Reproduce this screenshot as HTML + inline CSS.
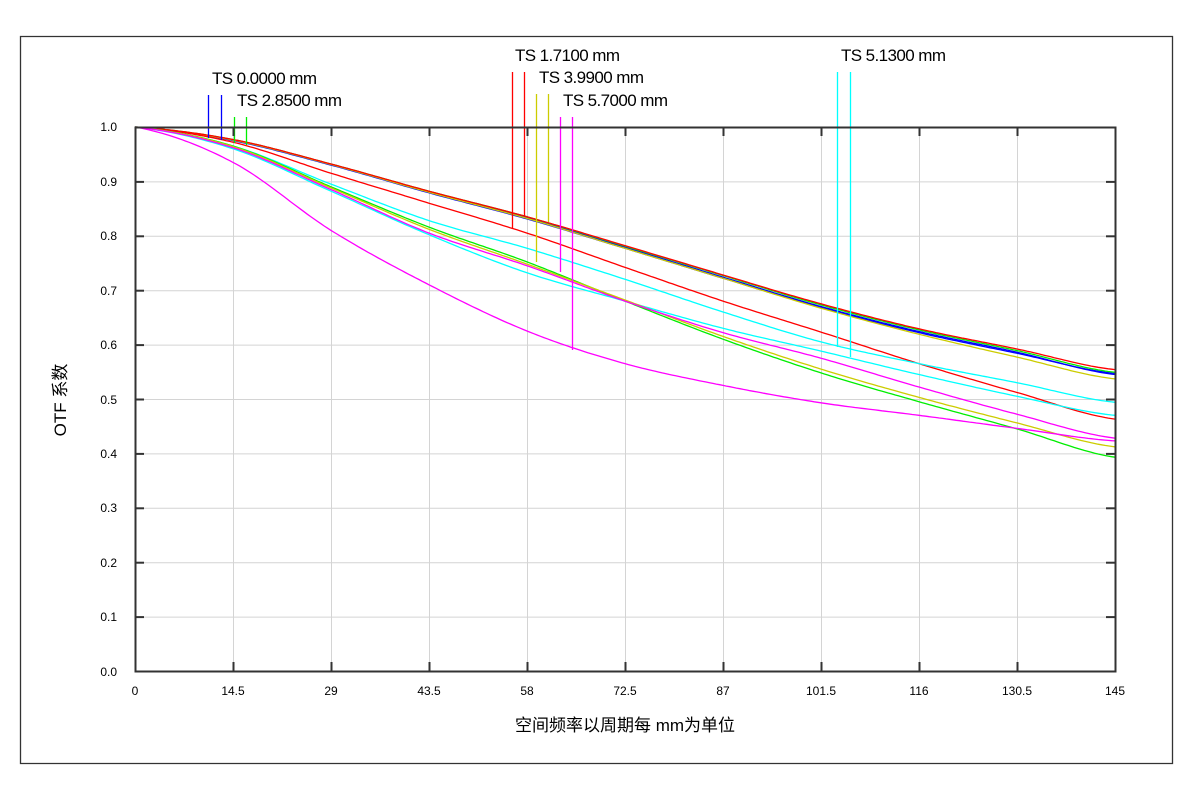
<!DOCTYPE html>
<html><head><meta charset="utf-8"><style>
html,body{margin:0;padding:0;background:#fff;width:1200px;height:800px;overflow:hidden}
svg{display:block}
.t{font-family:"Liberation Sans","Noto Sans CJK SC",sans-serif;font-size:12px;fill:#000}
.l{font-family:"Liberation Sans","Noto Sans CJK SC",sans-serif;font-size:17px;fill:#000}
</style></head><body>
<svg id="s" width="1200" height="800" xmlns="http://www.w3.org/2000/svg">
<rect x="0" y="0" width="1200" height="800" fill="#fff"/>
<path d="M20.5 36.5H1172.5V763.5H20.5Z" fill="none" stroke="#333" stroke-width="1.3"/>
<g id="grid" stroke="#d4d4d4" stroke-width="1"></g>
<g id="curves" fill="none" stroke-width="1.3"></g>
<g id="marks" stroke-width="1.3"></g>
<rect x="135.5" y="127.5" width="980" height="544" fill="none" stroke="#333" stroke-width="2"/>
<g id="ticks" stroke="#333" stroke-width="2"></g>
<g class="t" text-anchor="end">
<text x="117" y="131">1.0</text><text x="117" y="186">0.9</text><text x="117" y="240">0.8</text>
<text x="117" y="295">0.7</text><text x="117" y="349">0.6</text><text x="117" y="404">0.5</text>
<text x="117" y="458">0.4</text><text x="117" y="512">0.3</text><text x="117" y="567">0.2</text>
<text x="117" y="621">0.1</text><text x="117" y="676">0.0</text>
</g>
<g class="t" text-anchor="middle">
<text x="135" y="695">0</text><text x="233" y="695">14.5</text><text x="331" y="695">29</text>
<text x="429" y="695">43.5</text><text x="527" y="695">58</text><text x="625" y="695">72.5</text>
<text x="723" y="695">87</text><text x="821" y="695">101.5</text><text x="919" y="695">116</text>
<text x="1017" y="695">130.5</text><text x="1115" y="695">145</text>
</g>
<text class="l" x="625" y="731" text-anchor="middle" style="font-size:17px">空间频率以周期每 mm为单位</text>
<text class="l" transform="translate(66,400) rotate(-90)" text-anchor="middle" style="font-size:17px">OTF 系数</text>
<g class="l">
<text x="212" y="84" textLength="105">TS 0.0000 mm</text>
<text x="237" y="106" textLength="105">TS 2.8500 mm</text>
<text x="515" y="61" textLength="105">TS 1.7100 mm</text>
<text x="539" y="83" textLength="105">TS 3.9900 mm</text>
<text x="563" y="106" textLength="105">TS 5.7000 mm</text>
<text x="841" y="61" textLength="105">TS 5.1300 mm</text>
</g>
</svg>
<script>
var NS="http://www.w3.org/2000/svg";
function X(f){return 135+f*980/145}
function Y(v){return 127+(1-v)*544}
function el(p,n,a){var e=document.createElementNS(NS,n);for(var k in a)e.setAttribute(k,a[k]);p.appendChild(e);return e}
var g=document.getElementById('grid'),t=document.getElementById('ticks');
for(var i=1;i<10;i++){var x=135.5+i*98;el(g,'line',{x1:x,y1:128,x2:x,y2:671});
 el(t,'line',{x1:x,y1:127,x2:x,y2:136});el(t,'line',{x1:x,y1:671,x2:x,y2:662});}
for(var j=1;j<10;j++){var y=127.5+j*54.4;el(g,'line',{x1:136,y1:y,x2:1115,y2:y});
 el(t,'line',{x1:135,y1:y,x2:144,y2:y});el(t,'line',{x1:1115,y1:y,x2:1106,y2:y});}
var F=[0,14.5,29,43.5,58,72.5,87,101.5,116,130.5,145];
var S=[
['#0000ff',[1,.975,.93,.879,.831,.777,.722,.668,.622,.584,.547]],
['#0000ff',[1,.976,.931,.881,.833,.779,.724,.670,.624,.586,.545]],
['#00ee00',[1,.977,.932,.882,.835,.781,.727,.673,.627,.589,.549]],
['#cccc00',[1,.976,.931,.880,.832,.777,.722,.667,.619,.577,.537]],
['#ff0000',[1,.977,.932,.882,.835,.782,.728,.675,.629,.592,.554]],
['#ff0000',[1,.972,.915,.860,.805,.742,.680,.623,.565,.512,.463]],
['#00ffff',[1,.965,.895,.828,.777,.720,.660,.605,.565,.530,.494]],
['#00ffff',[1,.960,.882,.802,.732,.680,.630,.588,.545,.505,.470]],
['#00ee00',[1,.965,.890,.816,.752,.680,.610,.548,.495,.445,.393]],
['#cccc00',[1,.964,.888,.812,.748,.682,.615,.555,.503,.456,.412]],
['#ff00ff',[1,.962,.885,.805,.745,.680,.622,.575,.522,.472,.428]],
['#ff00ff',[1,.935,.81,.71,.625,.565,.525,.493,.47,.446,.423]]
];
var c=document.getElementById('curves');
S.forEach(function(s){var v=s[1],d='';
 for(var k=0;k<=290;k++){var f=k*0.5,seg=Math.min(9,Math.floor(f/14.5)),u=(f-F[seg])/14.5;
  var p0=v[Math.max(0,seg-1)],p1=v[seg],p2=v[seg+1],p3=v[Math.min(10,seg+2)];
  var y=0.5*((2*p1)+(-p0+p2)*u+(2*p0-5*p1+4*p2-p3)*u*u+(-p0+3*p1-3*p2+p3)*u*u*u);
  d+=(k?'L':'M')+X(f).toFixed(1)+' '+Y(y).toFixed(1);}
 el(c,'path',{d:d,stroke:s[0]});});
var m=document.getElementById('marks');
[[208,95,138,'#0000ff'],[221,95,140,'#0000ff'],[234,117,143,'#00ee00'],[246,117,145,'#00ee00'],
 [512,72,229,'#ff0000'],[524,72,216,'#ff0000'],[536,94,262,'#cccc00'],[548,94,222,'#cccc00'],
 [560,117,272,'#ff00ff'],[572,117,350,'#ff00ff'],[837,72,347,'#00ffff'],[850,72,357,'#00ffff']
].forEach(function(a){el(m,'line',{x1:a[0]+.5,y1:a[1],x2:a[0]+.5,y2:a[2],stroke:a[3]})});
</script>
</body></html>
